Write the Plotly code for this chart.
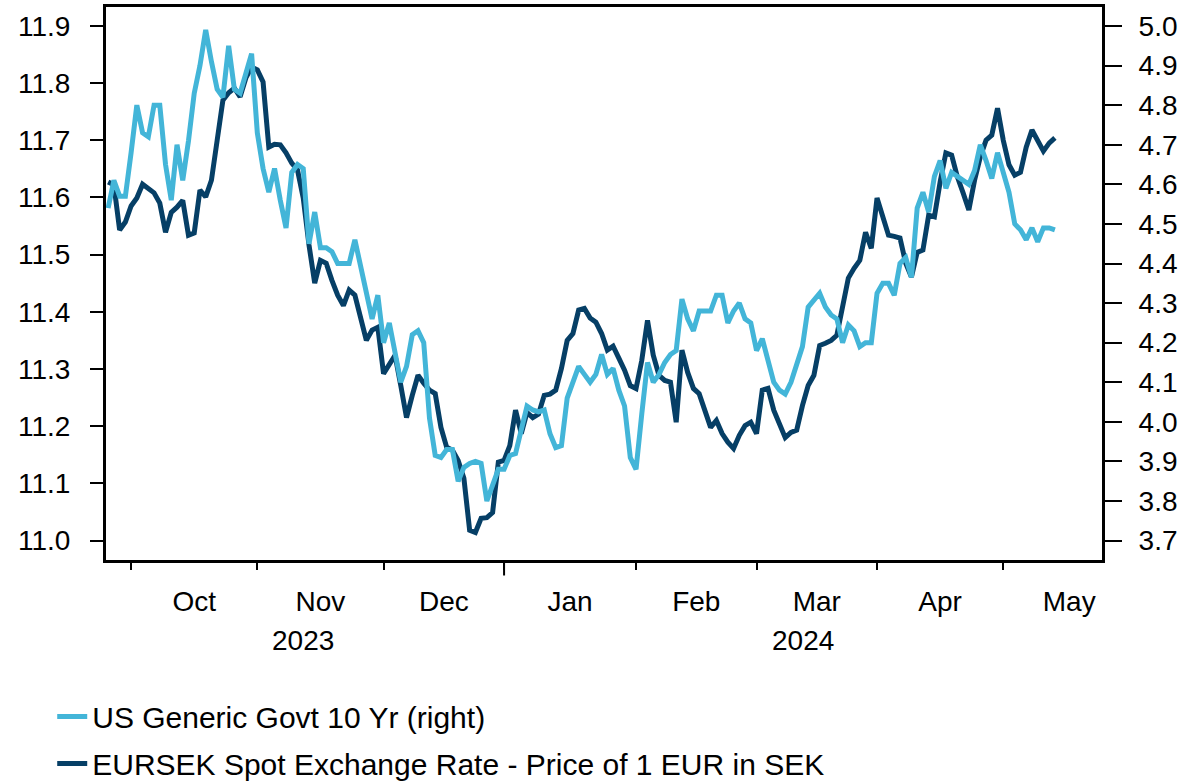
import pandas as pd
import plotly.graph_objects as go

# ---- data -------------------------------------------------------------
dates = pd.bdate_range("2023-09-26", "2024-05-14")  # business days

us10y = [
    # Sep
    4.54, 4.61, 4.57, 4.57,
    # Oct
    4.68, 4.80, 4.73, 4.72, 4.80, 4.80, 4.65, 4.56, 4.70, 4.61, 4.71, 4.83,
    4.90, 4.99, 4.91, 4.84, 4.82, 4.95, 4.84, 4.83, 4.88, 4.93,
    # Nov
    4.73, 4.64, 4.58, 4.64, 4.56, 4.49, 4.63, 4.65, 4.64, 4.45, 4.53, 4.44,
    4.44, 4.43, 4.40, 4.40, 4.40, 4.46, 4.39, 4.32, 4.26, 4.32,
    # Dec
    4.20, 4.25, 4.18, 4.10, 4.14, 4.22, 4.23, 4.20, 4.01, 3.915, 3.91, 3.93,
    3.93, 3.85, 3.885, 3.895, 3.90, 3.895, 3.80, 3.84, 3.88,
    # Jan
    3.88, 3.915, 3.92, 3.98, 4.04, 4.03, 4.025, 4.03, 3.97, 3.935, 3.94, 4.06,
    4.10, 4.14, 4.12, 4.10, 4.12, 4.17, 4.12, 4.135, 4.08, 4.04, 3.91,
    # Feb
    3.88, 4.02, 4.15, 4.10, 4.12, 4.15, 4.17, 4.18, 4.31, 4.26, 4.23, 4.28,
    4.28, 4.28, 4.32, 4.32, 4.25, 4.28, 4.30, 4.26, 4.25,
    # Mar
    4.18, 4.21, 4.15, 4.10, 4.08, 4.07, 4.10, 4.15, 4.19, 4.29, 4.31, 4.325,
    4.29, 4.27, 4.26, 4.20, 4.245, 4.23, 4.19, 4.20, 4.20,
    # Apr
    4.325, 4.35, 4.35, 4.32, 4.40, 4.415, 4.365, 4.54, 4.58, 4.53, 4.62, 4.66,
    4.59, 4.63, 4.62, 4.61, 4.60, 4.635, 4.70, 4.66, 4.615, 4.68,
    # May
    4.635, 4.58, 4.50, 4.485, 4.46, 4.49, 4.455, 4.49, 4.49, 4.485,
]

eursek = [
    # Sep
    11.627, 11.622, 11.543, 11.557,
    # Oct
    11.585, 11.599, 11.623, 11.615, 11.608, 11.590, 11.539, 11.574, 11.583,
    11.595, 11.534, 11.538, 11.613, 11.601, 11.630, 11.700, 11.770, 11.783,
    11.791, 11.776, 11.809, 11.828,
    # Nov
    11.823, 11.802, 11.688, 11.693, 11.692, 11.678, 11.660, 11.648, 11.599,
    11.517, 11.450, 11.490, 11.485, 11.455, 11.429, 11.411, 11.438, 11.429,
    11.385, 11.350, 11.368, 11.373,
    # Dec
    11.292, 11.310, 11.324, 11.271, 11.215, 11.254, 11.289, 11.275, 11.263,
    11.257, 11.198, 11.163, 11.158, 11.140, 11.109, 11.018, 11.014, 11.039,
    11.040, 11.049, 11.137,
    # Jan
    11.140, 11.166, 11.228, 11.187, 11.224, 11.215, 11.221, 11.254, 11.256,
    11.263, 11.301, 11.350, 11.362, 11.403, 11.406, 11.389, 11.382, 11.362,
    11.333, 11.340, 11.319, 11.298, 11.271,
    # Feb
    11.266, 11.315, 11.385, 11.324, 11.289, 11.280, 11.277, 11.207, 11.333,
    11.294, 11.266, 11.257, 11.224, 11.198, 11.210, 11.187, 11.172, 11.161,
    11.184, 11.201, 11.207,
    # Mar
    11.187, 11.263, 11.266, 11.228, 11.201, 11.180, 11.189, 11.193, 11.236,
    11.271, 11.289, 11.341, 11.345, 11.350, 11.359, 11.411, 11.459, 11.476,
    11.490, 11.539, 11.511,
    # Apr
    11.599, 11.564, 11.534, 11.532, 11.529, 11.485, 11.461, 11.504, 11.508,
    11.569, 11.566, 11.627, 11.678, 11.674, 11.636, 11.608, 11.578, 11.630,
    11.671, 11.700, 11.709, 11.756,
    # May
    11.700, 11.657, 11.639, 11.644, 11.688, 11.718, 11.697, 11.681, 11.695,
    11.704,
]

month_starts = ["2023-10-02", "2023-11-01", "2023-12-01", "2024-01-01",
                "2024-02-01", "2024-03-01", "2024-04-01", "2024-05-01"]
month_ends = month_starts[1:] + ["2024-06-03"]
month_labels = ["Oct", "Nov", "Dec", "Jan", "Feb", "Mar", "Apr", "May"]
year_labels = ["2023", "2024"]
left_ticks = [11.0, 11.1, 11.2, 11.3, 11.4, 11.5, 11.6, 11.7, 11.8, 11.9]
right_ticks = [3.7, 3.8, 3.9, 4.0, 4.1, 4.2, 4.3, 4.4, 4.5, 4.6, 4.7, 4.8, 4.9, 5.0]

LIGHT = "#43B5D8"
DARK = "#063F66"
FONT = "Liberation Sans, Arial, sans-serif"
TICK_SIZE = 28

# label positions: middle of each month in business-day space
label_pos = []
for s, e in zip(month_starts, month_ends):
    n = len(pd.bdate_range(s, e)) - 1
    whole = int(n // 2)
    frac = n / 2 - whole
    label_pos.append(pd.Timestamp(s) + pd.offsets.BDay(whole) + pd.Timedelta(days=frac))

fig = go.Figure()
fig.add_trace(go.Scatter(
    x=dates, y=eursek, mode="lines",
    name="EURSEK Spot Exchange Rate - Price of 1 EUR in SEK",
    line=dict(color=DARK, width=5), yaxis="y", legendrank=2, legendgroup="b",
))
fig.add_trace(go.Scatter(
    x=dates, y=us10y, mode="lines", name="US Generic Govt 10 Yr (right)",
    line=dict(color=LIGHT, width=5), yaxis="y2", legendrank=1, legendgroup="a",
))

axis_common = dict(showline=True, linecolor="black", linewidth=3, showgrid=False,
                   zeroline=False, ticks="outside", tickcolor="black", tickwidth=2,
                   automargin=False,
                   tickfont=dict(family=FONT, size=TICK_SIZE, color="black"))

fig.update_layout(
    template="none",
    width=1183, height=783,
    margin=dict(l=106, r=81, t=7, b=223, autoexpand=False),
    paper_bgcolor="white", plot_bgcolor="white",
    font=dict(family=FONT, color="black"),
    xaxis=dict(
        type="date",
        range=["2023-09-25 15:00", "2024-05-24 05:00"],
        rangebreaks=[dict(bounds=["sat", "mon"])],
        showline=True, linecolor="black", linewidth=3, mirror=True,
        showgrid=False, zeroline=False, automargin=False,
        tickmode="array", tickvals=label_pos, ticktext=month_labels,
        ticks="", ticklen=0,
        ticklabelstandoff=14,
        tickfont=dict(family=FONT, size=TICK_SIZE, color="black"),
        minor=dict(tickmode="array", tickvals=month_starts, ticks="outside",
                   ticklen=7, tickwidth=2, tickcolor="black", showgrid=False),
    ),
    yaxis=dict(range=[10.966, 11.933], tickmode="array", tickvals=left_ticks,
               tickformat=".1f", ticklen=13, mirror=True, ticklabelstandoff=14,
               **axis_common),
    yaxis2=dict(range=[3.651, 5.048], overlaying="y", side="right",
                tickmode="array", tickvals=right_ticks,
                tickformat=".1f", ticklen=17, ticklabelstandoff=11, **axis_common),
    showlegend=True,
    legend=dict(x=-0.054, xanchor="left", y=-0.236, yanchor="top",
                orientation="v", font=dict(family=FONT, size=30, color="black"),
                bgcolor="rgba(0,0,0,0)", tracegroupgap=5, traceorder="grouped"),
    shapes=[dict(type="line", xref="x", yref="paper", x0="2024-01-01", x1="2024-01-01",
                 y0=0, y1=-0.028, line=dict(color="black", width=2))],
    annotations=[
        dict(text=year_labels[0], xref="paper", yref="paper", x=0.198, y=-0.146,
             xanchor="center", yanchor="middle", showarrow=False,
             font=dict(family=FONT, size=TICK_SIZE, color="black")),
        dict(text=year_labels[1], xref="paper", yref="paper", x=0.70, y=-0.146,
             xanchor="center", yanchor="middle", showarrow=False,
             font=dict(family=FONT, size=TICK_SIZE, color="black")),
    ],
)

fig.write_html(
    "out.html",
    config={"displayModeBar": False},
    post_script="document.body.style.margin='0px';document.body.style.overflow='hidden';",
)
